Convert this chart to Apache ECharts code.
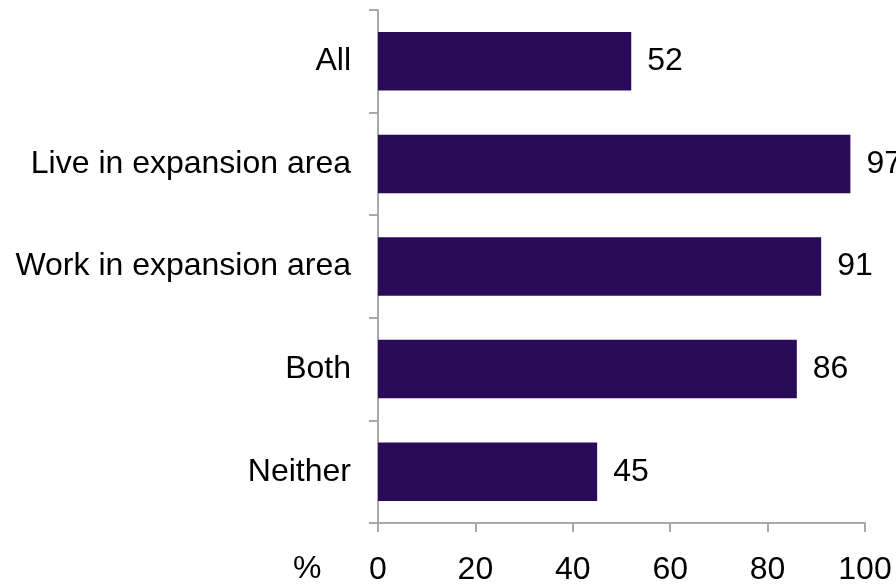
<!DOCTYPE html>
<html>
<head>
<meta charset="utf-8">
<script src="https://cdn.jsdelivr.net/npm/echarts@6/dist/echarts.min.js"></script>
<style>
  html, body { margin: 0; padding: 0; background: #ffffff; }
  #chart { width: 896px; height: 586px; }
</style>
</head>
<body>
<div id="chart"></div>
<script>
// Share of respondents (%) by where they live / work
const categories = ['All', 'Live in expansion area', 'Work in expansion area', 'Both', 'Neither'];
const values = [52, 97, 91, 86, 45];
const xTicks = { min: 0, max: 100, interval: 20 };
const unitLabel = '%';

const FONT = '"Liberation Sans", Arial, sans-serif';
const FONT_SIZE = 32;
const AXIS_GREY = '#a9a9a9';
const BAR_COLOR = '#2a0b59';

const chart = echarts.init(document.getElementById('chart'), null, { renderer: 'canvas' });

chart.setOption({
  animation: false,
  backgroundColor: '#ffffff',
  grid: { left: 378, right: 31, top: 10, bottom: 62, containLabel: false },
  xAxis: {
    type: 'value',
    min: xTicks.min,
    max: xTicks.max,
    interval: xTicks.interval,
    splitLine: { show: false },
    axisLine: { show: true, lineStyle: { color: AXIS_GREY, width: 2 } },
    axisTick: { show: true, length: 9, lineStyle: { color: AXIS_GREY, width: 2 } },
    axisLabel: { color: '#000000', fontFamily: FONT, fontSize: FONT_SIZE, margin: 31 }
  },
  yAxis: {
    type: 'category',
    data: categories,
    inverse: true,
    axisLine: { show: true, lineStyle: { color: AXIS_GREY, width: 2 } },
    axisTick: { show: true, length: 9, lineStyle: { color: AXIS_GREY, width: 2 } },
    axisLabel: { color: '#000000', fontFamily: FONT, fontSize: FONT_SIZE, margin: 27 }
  },
  series: [{
    type: 'bar',
    data: values,
    barCategoryGap: '43%',
    itemStyle: { color: BAR_COLOR },
    label: {
      show: true,
      position: 'right',
      distance: 16,
      color: '#000000',
      fontFamily: FONT,
      fontSize: FONT_SIZE
    }
  }],
  graphic: [{
    type: 'text',
    left: 293,
    top: 553,
    style: { text: unitLabel, fill: '#000000', font: FONT_SIZE + 'px ' + FONT }
  }]
});
</script>
</body>
</html>
